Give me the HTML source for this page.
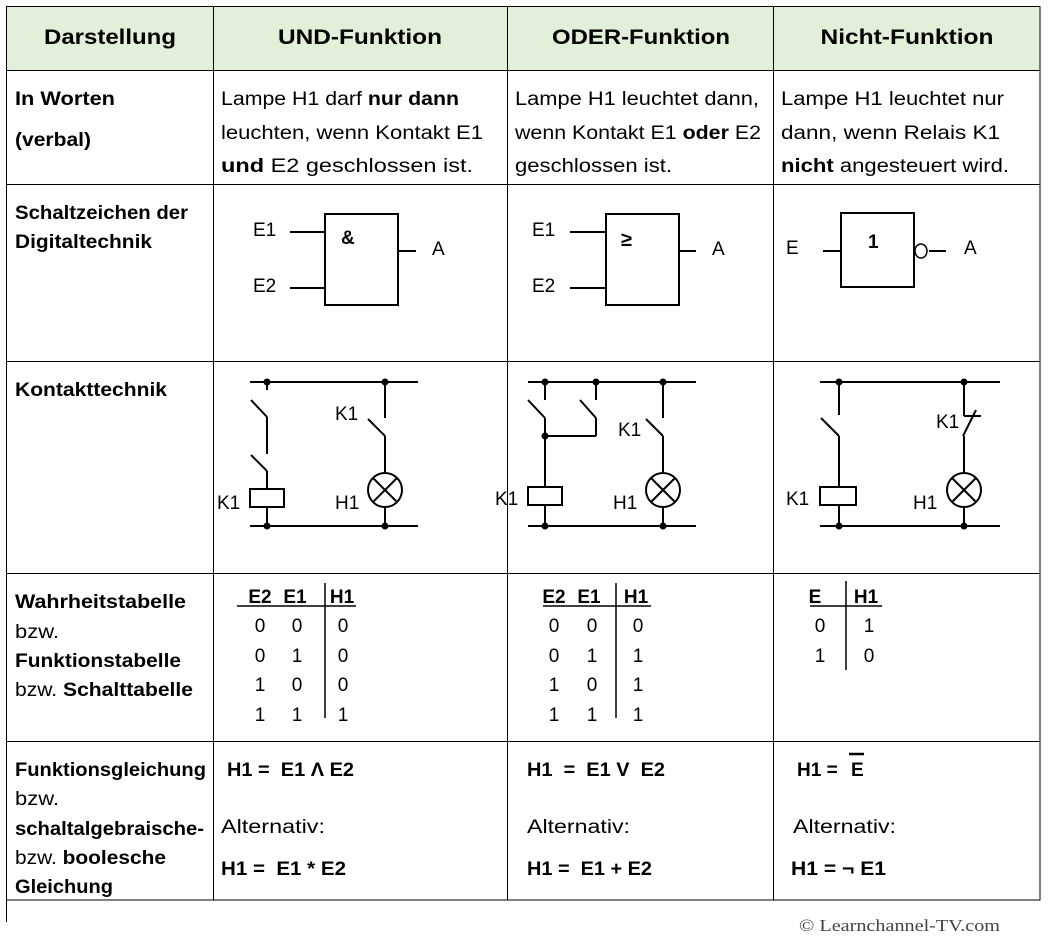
<!DOCTYPE html>
<html><head><meta charset="utf-8"><style>
html,body{margin:0;padding:0;background:#fff;}
svg{display:block;}
text{font-family:"Liberation Sans",Arial,sans-serif;fill:#000;}
.b{font-weight:bold;}
</style></head><body>
<svg width="1051" height="939" viewBox="0 0 1051 939" xmlns="http://www.w3.org/2000/svg">
<rect x="6" y="6" width="1034" height="64" fill="#e2efd9"/>
<g stroke="#000" stroke-width="1" fill="none">
<rect x="6.5" y="6.5" width="1033.5" height="893.5"/>
<line x1="6.5" y1="900" x2="6.5" y2="922"/>
<line x1="213.5" y1="6" x2="213.5" y2="900"/>
<line x1="507.5" y1="6" x2="507.5" y2="900"/>
<line x1="773.5" y1="6" x2="773.5" y2="900"/>
<line x1="6" y1="70.5" x2="1040" y2="70.5"/>
<line x1="6" y1="184.5" x2="1040" y2="184.5"/>
<line x1="6" y1="361.5" x2="1040" y2="361.5"/>
<line x1="6" y1="573.5" x2="1040" y2="573.5"/>
<line x1="6" y1="741.5" x2="1040" y2="741.5"/>
</g>
<!-- header -->
<g class="b" font-size="21" text-anchor="middle">
<text x="110" y="44" class="b" textLength="132" lengthAdjust="spacingAndGlyphs">Darstellung</text>
<text x="360" y="44" class="b" textLength="164" lengthAdjust="spacingAndGlyphs">UND-Funktion</text>
<text x="641" y="44" class="b" textLength="178" lengthAdjust="spacingAndGlyphs">ODER-Funktion</text>
<text x="907" y="44" class="b" textLength="173" lengthAdjust="spacingAndGlyphs">Nicht-Funktion</text>
</g>
<!-- left column -->
<g font-size="19">
<text x="15" y="105" class="b" textLength="100" lengthAdjust="spacingAndGlyphs">In Worten</text>
<text x="15" y="146" class="b" textLength="76" lengthAdjust="spacingAndGlyphs">(verbal)</text>
<text x="15" y="219" class="b" textLength="173" lengthAdjust="spacingAndGlyphs">Schaltzeichen der</text>
<text x="15" y="248" class="b" textLength="137" lengthAdjust="spacingAndGlyphs">Digitaltechnik</text>
<text x="15" y="396" class="b" textLength="152" lengthAdjust="spacingAndGlyphs">Kontakttechnik</text>
<text x="15" y="608" class="b" textLength="171" lengthAdjust="spacingAndGlyphs">Wahrheitstabelle</text>
<text x="15" y="638" textLength="44" lengthAdjust="spacingAndGlyphs">bzw.</text>
<text x="15" y="667" class="b" textLength="166" lengthAdjust="spacingAndGlyphs">Funktionstabelle</text>
<text x="15" y="696" textLength="178" lengthAdjust="spacingAndGlyphs">bzw. <tspan class="b">Schalttabelle</tspan></text>
<text x="15" y="776" class="b" textLength="191" lengthAdjust="spacingAndGlyphs">Funktionsgleichung</text>
<text x="15" y="805" textLength="44" lengthAdjust="spacingAndGlyphs">bzw.</text>
<text x="15" y="835" class="b" textLength="189" lengthAdjust="spacingAndGlyphs">schaltalgebraische-</text>
<text x="15" y="864" textLength="151" lengthAdjust="spacingAndGlyphs">bzw. <tspan class="b">boolesche</tspan></text>
<text x="15" y="893" class="b" textLength="98" lengthAdjust="spacingAndGlyphs">Gleichung</text>
</g>
<!-- verbal -->
<g font-size="19">
<text x="221" y="105" textLength="238" lengthAdjust="spacingAndGlyphs">Lampe H1 darf <tspan class="b">nur dann</tspan></text>
<text x="221" y="139" textLength="262" lengthAdjust="spacingAndGlyphs">leuchten, wenn Kontakt E1</text>
<text x="221" y="172" textLength="252" lengthAdjust="spacingAndGlyphs"><tspan class="b">und</tspan> E2 geschlossen ist.</text>
<text x="515" y="105" textLength="244" lengthAdjust="spacingAndGlyphs">Lampe H1 leuchtet dann,</text>
<text x="515" y="139" textLength="246" lengthAdjust="spacingAndGlyphs">wenn Kontakt E1 <tspan class="b">oder</tspan> E2</text>
<text x="515" y="172" textLength="157" lengthAdjust="spacingAndGlyphs">geschlossen ist.</text>
<text x="781" y="105" textLength="223" lengthAdjust="spacingAndGlyphs">Lampe H1 leuchtet nur</text>
<text x="781" y="139" textLength="219" lengthAdjust="spacingAndGlyphs">dann, wenn Relais K1</text>
<text x="781" y="172" textLength="228" lengthAdjust="spacingAndGlyphs"><tspan class="b">nicht</tspan> angesteuert wird.</text>
</g>
<!-- gates -->
<g stroke="#000" stroke-width="2" fill="none">
<rect x="325" y="214" width="73" height="91"/>
<line x1="290" y1="232" x2="325" y2="232"/><line x1="290" y1="288" x2="325" y2="288"/><line x1="398" y1="251" x2="416" y2="251"/>
<rect x="606" y="214" width="73" height="91"/>
<line x1="570" y1="232" x2="606" y2="232"/><line x1="570" y1="288" x2="606" y2="288"/><line x1="679" y1="251" x2="696" y2="251"/>
<rect x="841" y="213" width="73" height="74"/>
<line x1="823" y1="251" x2="841" y2="251"/>
<line x1="929" y1="251" x2="946" y2="251"/>
</g>
<ellipse cx="921" cy="251" rx="6" ry="7" stroke="#000" stroke-width="1.5" fill="none"/>
<g font-size="19">
<text x="253" y="236">E1</text><text x="253" y="292">E2</text><text x="432" y="255">A</text>
<text x="341" y="244" class="b" font-size="19">&amp;</text>
<text x="532" y="236">E1</text><text x="532" y="292">E2</text><text x="712" y="255">A</text>
<text x="621" y="246" class="b" font-size="20">≥</text>
<text x="786" y="254">E</text><text x="964" y="254">A</text>
<text x="868" y="248" class="b" font-size="19">1</text>
</g>
<!-- contact circuits -->
<g stroke="#000" stroke-width="2" fill="none">
<line x1="250" y1="382" x2="418" y2="382"/><line x1="250" y1="526" x2="418" y2="526"/>
<line x1="267" y1="382" x2="267" y2="390"/><line x1="251" y1="400" x2="267" y2="417"/>
<line x1="267" y1="417" x2="267" y2="454"/><line x1="251" y1="455" x2="267" y2="471"/>
<line x1="267" y1="471" x2="267" y2="489"/><rect x="250" y="489" width="34" height="18"/>
<line x1="267" y1="507" x2="267" y2="526"/>
<line x1="385" y1="382" x2="385" y2="418"/><line x1="368" y1="419" x2="385" y2="436"/>
<line x1="385" y1="436" x2="385" y2="472"/><circle cx="385" cy="490" r="17"/>
<line x1="373" y1="478" x2="397" y2="502"/><line x1="397" y1="478" x2="373" y2="502"/>
<line x1="385" y1="507" x2="385" y2="526"/>
<line x1="528" y1="382" x2="696" y2="382"/><line x1="528" y1="526" x2="696" y2="526"/>
<line x1="545" y1="382" x2="545" y2="400"/><line x1="528" y1="400" x2="545" y2="418"/>
<line x1="545" y1="418" x2="545" y2="487"/>
<line x1="596" y1="382" x2="596" y2="400"/><line x1="580" y1="400" x2="596" y2="418"/>
<line x1="596" y1="418" x2="596" y2="436"/><line x1="545" y1="436" x2="596" y2="436"/>
<rect x="528" y="487" width="34" height="18"/><line x1="545" y1="505" x2="545" y2="526"/>
<line x1="663" y1="382" x2="663" y2="418"/><line x1="646" y1="419" x2="663" y2="436"/>
<line x1="663" y1="436" x2="663" y2="472"/><circle cx="663" cy="490" r="17"/>
<line x1="651" y1="478" x2="675" y2="502"/><line x1="675" y1="478" x2="651" y2="502"/>
<line x1="663" y1="507" x2="663" y2="526"/>
<line x1="820" y1="382" x2="1000" y2="382"/><line x1="820" y1="526" x2="1000" y2="526"/>
<line x1="839" y1="382" x2="839" y2="415"/><line x1="821" y1="418" x2="839" y2="436"/>
<line x1="839" y1="436" x2="839" y2="487"/>
<rect x="820" y="487" width="36" height="18"/><line x1="839" y1="505" x2="839" y2="526"/>
<line x1="964" y1="382" x2="964" y2="416"/><line x1="964" y1="416" x2="981" y2="416"/>
<line x1="963" y1="436" x2="976" y2="410"/>
<line x1="964" y1="436" x2="964" y2="472"/><circle cx="964" cy="490" r="17"/>
<line x1="952" y1="478" x2="976" y2="502"/><line x1="976" y1="478" x2="952" y2="502"/>
<line x1="964" y1="507" x2="964" y2="526"/>
</g>
<g fill="#000">
<circle cx="267" cy="382" r="3.5"/><circle cx="385" cy="382" r="3.5"/><circle cx="267" cy="526" r="3.5"/><circle cx="385" cy="526" r="3.5"/>
<circle cx="545" cy="382" r="3.5"/><circle cx="596" cy="382" r="3.5"/><circle cx="663" cy="382" r="3.5"/><circle cx="545" cy="436" r="3.5"/><circle cx="545" cy="526" r="3.5"/><circle cx="663" cy="526" r="3.5"/>
<circle cx="839" cy="382" r="3.5"/><circle cx="964" cy="382" r="3.5"/><circle cx="839" cy="526" r="3.5"/><circle cx="964" cy="526" r="3.5"/>
</g>
<g font-size="19">
<text x="335" y="420">K1</text><text x="335" y="509">H1</text><text x="217" y="509">K1</text>
<text x="618" y="436">K1</text><text x="613" y="509">H1</text><text x="495" y="505">K1</text>
<text x="936" y="428">K1</text><text x="913" y="509">H1</text><text x="786" y="505">K1</text>
</g>
<!-- truth tables -->
<g stroke="#000" stroke-width="1.5">
<line x1="237" y1="606" x2="356" y2="606"/><line x1="325" y1="583" x2="325" y2="718"/>
<line x1="543" y1="606" x2="651" y2="606"/><line x1="616" y1="583" x2="616" y2="718"/>
<line x1="810" y1="606" x2="882" y2="606"/><line x1="846" y1="581" x2="846" y2="670"/>
</g>
<g font-size="19" text-anchor="middle">
<text x="260" y="603" class="b">E2</text><text x="295" y="603" class="b">E1</text><text x="342" y="603" class="b">H1</text>
<text x="260" y="632">0</text><text x="297" y="632">0</text><text x="343" y="632">0</text>
<text x="260" y="662">0</text><text x="297" y="662">1</text><text x="343" y="662">0</text>
<text x="260" y="691">1</text><text x="297" y="691">0</text><text x="343" y="691">0</text>
<text x="260" y="721">1</text><text x="297" y="721">1</text><text x="343" y="721">1</text>
<text x="554" y="603" class="b">E2</text><text x="589" y="603" class="b">E1</text><text x="636" y="603" class="b">H1</text>
<text x="554" y="632">0</text><text x="592" y="632">0</text><text x="638" y="632">0</text>
<text x="554" y="662">0</text><text x="592" y="662">1</text><text x="638" y="662">1</text>
<text x="554" y="691">1</text><text x="592" y="691">0</text><text x="638" y="691">1</text>
<text x="554" y="721">1</text><text x="592" y="721">1</text><text x="638" y="721">1</text>
<text x="815" y="603" class="b">E</text><text x="866" y="603" class="b">H1</text>
<text x="820" y="632">0</text><text x="869" y="632">1</text>
<text x="820" y="662">1</text><text x="869" y="662">0</text>
</g>
<!-- equations -->
<g font-size="19">
<text x="227" y="776" class="b" xml:space="preserve" textLength="127" lengthAdjust="spacingAndGlyphs">H1 =  E1 Λ E2</text>
<text x="221" y="833" textLength="104" lengthAdjust="spacingAndGlyphs">Alternativ:</text>
<text x="221" y="875" class="b" xml:space="preserve" textLength="125" lengthAdjust="spacingAndGlyphs">H1 =  E1 * E2</text>
<text x="527" y="776" class="b" xml:space="preserve" textLength="138" lengthAdjust="spacingAndGlyphs">H1  =  E1 V  E2</text>
<text x="527" y="833" textLength="103" lengthAdjust="spacingAndGlyphs">Alternativ:</text>
<text x="527" y="875" class="b" xml:space="preserve" textLength="125" lengthAdjust="spacingAndGlyphs">H1 =  E1 + E2</text>
<text x="797" y="776" class="b">H1 =</text>
<text x="851" y="776" class="b">E</text>
<text x="793" y="833" textLength="103" lengthAdjust="spacingAndGlyphs">Alternativ:</text>
<text x="791" y="875" class="b" textLength="95" lengthAdjust="spacingAndGlyphs">H1 = ¬ E1</text>
</g>
<line x1="849" y1="754" x2="864" y2="754" stroke="#000" stroke-width="2.5"/>
<text x="799" y="931" font-size="17" textLength="201" lengthAdjust="spacingAndGlyphs" style="font-family:'Liberation Serif',serif;fill:#444">© Learnchannel-TV.com</text>
</svg>
</body></html>
